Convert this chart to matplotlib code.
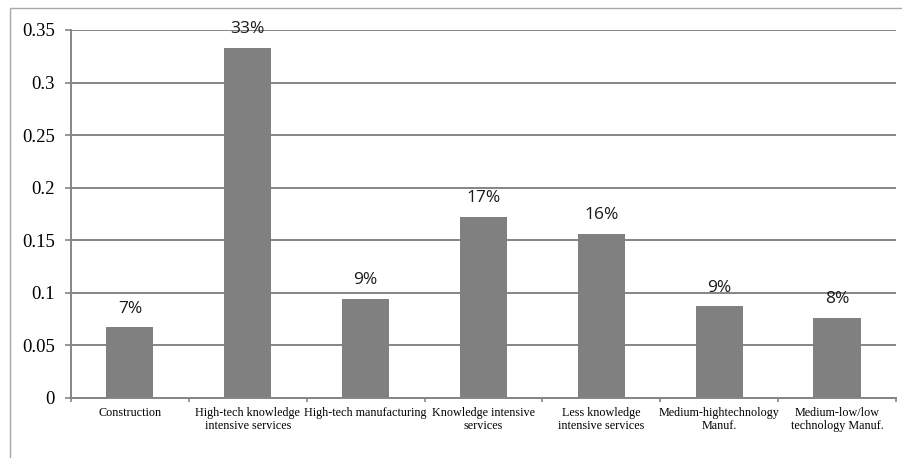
##-------------------------------------------------------------
import matplotlib.pyplot as plt
import matplotlib.patches as mpatches
import numpy as np
##-------------------------------------------------------------

sectors = ['Construction',
           'High-tech knowledge\nintensive services',
           'High-tech manufacturing',
           'Knowledge intensive\nservices',
           'Less knowledge\nintensive services',
           'Medium-hightechnology\nManuf.',
           'Medium-low/low\ntechnology Manuf.']
shares = [0.067, 0.333, 0.094, 0.172, 0.156, 0.087, 0.076]
yticks = [0, 0.05, 0.1, 0.15, 0.2, 0.25, 0.3, 0.35]
ytick_labels = ['0', '0.05', '0.1', '0.15', '0.2', '0.25', '0.3', '0.35']

grey = '#858585'

##-------------------------------------------------------------
fig = plt.figure(figsize=(9.03, 4.58), dpi=100)
ax = fig.add_axes([0.0786, 0.1317, 0.9136, 0.8028])

x = np.arange(len(sectors))
ax.bar(x, shares, width=0.4, color='#808080', zorder=3)

# percentage labels above each bar
for xi, v in zip(x, shares):
    ax.annotate('{:.0%}'.format(v), xy=(xi, v), xytext=(0, 13.5),
                textcoords='offset points', ha='center', va='center',
                fontsize=12.5, family='Open Sans', color='#1a1a1a', zorder=4)

ax.set_xlim(-0.5, len(sectors) - 0.5)
ax.set_ylim(0, 0.35)
ax.set_yticks(yticks)
ax.set_yticklabels(ytick_labels, family='Liberation Serif', fontsize=13.5)
ax.yaxis.grid(True, color=grey, lw=1.4, zorder=1)

# category labels at centres, tick marks between categories
ax.set_xticks(x)
ax.set_xticklabels(sectors, family='Liberation Serif', fontsize=8.7,
                   linespacing=1.15)
ax.set_xticks(np.arange(len(sectors) + 1) - 0.5, minor=True)
ax.tick_params(axis='x', which='major', length=0, pad=6.5)
ax.tick_params(axis='x', which='minor', length=3, width=1.2, color=grey)
ax.tick_params(axis='y', length=4, width=1.2, color=grey, pad=7.5)

for s in ['top', 'right']:
    ax.spines[s].set_visible(False)
for s in ['left', 'bottom']:
    ax.spines[s].set_color(grey)
    ax.spines[s].set_linewidth(1.4)
    ax.spines[s].set_zorder(5)

# outer chart border
frame = mpatches.Rectangle((10 / 903., -0.5), 2, 1.5 - 8 / 458.,
                           transform=fig.transFigure, fill=False,
                           edgecolor='#a8a8a8', lw=1.0)
fig.add_artist(frame)

plt.savefig('out.png', dpi=100)
